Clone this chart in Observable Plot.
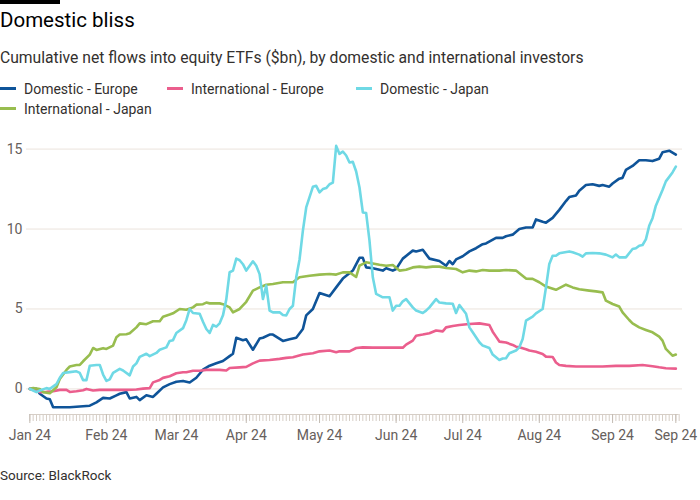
<!DOCTYPE html>
<html>
<head>
<meta charset="utf-8">
<script src="https://cdn.jsdelivr.net/npm/d3@7"></script>
<script src="https://cdn.jsdelivr.net/npm/@observablehq/plot@0.6"></script>
<style>
  html, body { margin: 0; padding: 0; background: #fff; }
  body { width: 700px; height: 500px; position: relative; overflow: hidden; font-family: Roboto, "Noto Sans", sans-serif; }
  .bar { position: absolute; left: 0; top: 0; width: 60px; height: 4px; background: #000; }
  .title { position: absolute; left: 0; top: 8px; font-size: 20.5px; line-height: 24px; color: #000; }
  .subtitle { position: absolute; left: 0; top: 48px; font-size: 15.7px; line-height: 20px; color: #33302e; }
  .legend { position: absolute; left: 0; top: 79px; width: 600px; font-size: 14px; line-height: 20px; color: #33302e; }
  .item { display: inline-block; position: relative; padding-left: 24px; box-sizing: border-box; white-space: nowrap; }
  .item .sw { position: absolute; left: 0; top: 8px; width: 16px; height: 3px; }
  #chart { position: absolute; left: 0; top: 125px; }
  .source { position: absolute; left: 0; top: 466px; font-size: 13.5px; line-height: 18px; color: #33302e; }
</style>
</head>
<body>
<div class="bar"></div>
<div class="title">Domestic bliss</div>
<div class="subtitle">Cumulative net flows into equity ETFs ($bn), by domestic and international investors</div>
<div class="legend" id="legend"></div>
<div id="chart"></div>
<div class="source">Source: BlackRock</div>
<script>
// Series names and colours
const seriesNames = ["Domestic - Europe", "International - Europe", "Domestic - Japan", "International - Japan"];
const seriesColors = ["#0f5499", "#eb5e8d", "#6fd9e5", "#98bd4f"];

// x = weekday index counted from 1 Jan 2024
const tickDays = [0, 23, 44, 65, 87, 110, 130, 153, 175, 194];
const tickLabels = ["Jan 24", "Feb 24", "Mar 24", "Apr 24", "May 24", "Jun 24", "Jul 24", "Aug 24", "Sep 24", "Sep 24"];
const yTicks = [0, 5, 10, 15];

// Domestic - Europe
const deDays = [0,2,3,5,6,7,9,12,15,18,20,22,24,26,27,29,30,32,33,35,37,38,40,42,44,46,48,50,52,54,56,58,60,61,62,64,65,67,69,70,72,73,76,78,80,82,83,85,87,90,92,94,97,99,100,101,103,106,107,109,110,112,115,116,118,120,123,125,126,127,128,130,132,134,136,137,140,142,143,145,147,149,151,152,154,155,157,158,159,161,162,164,165,167,169,171,172,174,175,177,178,179,181,183,185,187,189,190,192,194];
const deValues = [0,0,-0.3,-0.6,-0.65,-1.15,-1.15,-1.15,-1.1,-1.05,-0.84,-0.56,-0.6,-0.4,-0.3,-0.2,-0.6,-0.5,-0.7,-0.4,-0.5,-0.3,0.1,0.3,0.45,0.5,0.4,0.7,1.2,1.45,1.6,1.75,2.05,2.2,3.2,3.05,3.1,2.45,3.15,3.2,3.4,3.4,3.0,3.1,3.2,3.75,4.6,5.0,6.0,5.8,6.35,6.9,7.4,8.2,8.2,7.6,7.55,7.4,7.55,7.4,7.5,8.15,8.65,8.6,8.7,8.15,8.0,7.7,8.0,7.8,8.1,8.3,8.6,8.8,9.05,9.1,9.45,9.45,9.55,9.65,10.0,10.1,10.1,10.6,10.45,10.4,10.7,10.95,11.2,11.75,12.0,12.1,12.4,12.75,12.8,12.7,12.75,12.65,12.85,13.15,13.2,13.7,13.95,14.3,14.3,14.25,14.4,14.8,14.9,14.65];

// International - Europe
const ieDays = [0,1,3,5,7,9,11,12,14,16,17,19,21,25,29,32,34,36,37,39,40,42,44,46,47,49,51,53,55,57,59,60,63,65,67,69,72,75,77,79,82,85,87,90,92,93,96,98,100,103,106,109,112,113,115,116,118,120,122,124,125,127,129,132,135,138,139,140,141,143,145,146,147,149,150,152,154,155,157,158,159,161,164,168,172,176,180,184,187,189,191,194];
const ieValues = [0,-0.03,-0.2,-0.18,-0.15,-0.06,-0.06,-0.19,-0.15,-0.08,0,-0.1,-0.06,-0.06,-0.06,-0.04,0.02,0.05,0.41,0.56,0.69,0.79,0.98,1.04,1.04,1.14,1.14,1.19,1.19,1.19,1.15,1.31,1.35,1.38,1.6,1.77,1.81,1.88,1.94,1.98,2.15,2.23,2.35,2.4,2.29,2.35,2.35,2.56,2.6,2.58,2.58,2.58,2.58,2.77,3.02,3.33,3.4,3.48,3.65,3.6,3.85,3.94,4.0,4.06,4.1,4.0,3.58,3.27,2.96,2.9,2.75,2.64,2.6,2.48,2.4,2.33,2.19,2.02,2.0,1.65,1.5,1.44,1.4,1.4,1.4,1.44,1.44,1.5,1.42,1.35,1.29,1.27];

// Domestic - Japan
const djDays = [0,1,2,3,5,6,8,9,10,12,14,15,16,17,18,20,21,22,23,24,25,27,28,30,31,32,33,35,36,38,39,41,42,43,44,46,47,48,49,51,52,53,54,55,56,57,58,59,60,61,62,63,64,65,67,68,69,70,71,72,73,75,76,77,78,79,80,81,82,83,85,86,87,88,89,90,91,92,93,94,95,96,97,98,99,100,101,102,103,104,106,108,109,110,111,112,113,115,116,118,119,120,122,123,125,127,128,129,131,132,133,135,136,138,139,141,142,143,144,146,147,148,149,151,152,154,155,156,157,158,159,162,163,165,166,167,169,171,173,175,176,177,179,181,182,183,184,185,186,187,188,190,191,193,194];
const djValues = [0,-0.1,-0.2,-0.1,0.05,0,0.3,0.7,1.0,1.05,1.1,1.0,0.55,0.55,1.45,1.5,1.5,0.9,0.5,0.6,1.0,1.25,1.15,0.85,1.4,1.6,2.0,2.2,2.05,2.25,2.45,2.6,3.0,3.05,3.5,3.8,4.3,5.0,4.75,4.7,4.2,3.75,3.5,4.0,3.9,4.1,4.6,5.6,7.3,7.4,8.15,8.05,7.8,7.4,7.98,7.7,7.18,5.62,6.46,4.9,4.79,4.79,4.62,4.6,5.0,5.2,6.98,8.1,9.9,11.35,12.64,12.7,12.29,12.5,12.56,12.8,12.9,15.2,14.7,14.85,14.6,14.16,14.2,13.6,12.6,11.04,11.0,9.27,6.98,5.94,5.73,5.73,4.9,5.2,5.2,5.48,5.62,5.1,4.9,4.75,4.9,5.1,5.62,5.4,5.35,5.33,4.75,5.25,4.7,3.85,3.54,2.92,2.71,2.56,2.15,1.81,1.9,1.92,2.23,2.4,2.6,3.12,4.27,4.52,4.73,5.0,6.35,7.81,8.33,8.33,8.48,8.6,8.55,8.4,8.27,8.48,8.5,8.48,8.4,8.23,8.4,8.23,8.23,8.75,8.8,8.96,9.0,9.35,10.2,10.68,11.46,12.44,12.98,13.54,13.9];

// International - Japan
const ijDays = [0,1,3,4,6,8,9,11,12,14,15,16,18,19,20,22,23,25,26,27,29,30,32,33,35,37,39,40,42,43,45,47,49,50,52,53,54,57,58,60,61,63,65,67,69,71,73,76,79,81,84,87,90,92,94,96,98,99,101,103,105,107,109,111,113,115,117,119,121,123,125,128,130,132,134,136,138,141,143,146,149,151,153,155,158,159,161,163,165,168,170,172,173,175,177,178,180,181,183,185,187,189,190,191,193,194];
const ijValues = [0,0.05,0,-0.2,-0.27,0.1,0.62,1.19,1.4,1.5,1.5,1.73,2.15,2.56,2.44,2.55,2.5,2.71,3.23,3.4,3.42,3.48,3.85,4.1,4.05,4.23,4.23,4.52,4.65,4.73,5.0,4.95,5.1,5.27,5.3,5.4,5.35,5.35,5.3,5.1,4.79,5.0,5.45,6.15,6.35,6.52,6.56,6.67,6.67,6.98,7.08,7.15,7.19,7.15,7.29,7.29,7.0,7.71,7.92,7.85,7.77,7.7,7.75,7.4,7.45,7.6,7.65,7.6,7.65,7.65,7.56,7.5,7.29,7.4,7.35,7.44,7.4,7.4,7.44,7.4,6.9,6.88,6.67,6.4,6.2,6.31,6.52,6.35,6.23,6.15,6.1,6.04,5.52,5.31,5.15,4.79,4.31,4.1,3.85,3.69,3.54,3.27,3.02,2.5,2.08,2.15];

const seriesDays = [deDays, ieDays, djDays, ijDays];
const seriesValues = [deValues, ieValues, djValues, ijValues];

// Legend
const legend = document.getElementById("legend");
const itemWidths = [167, 189, 200, 200];
seriesNames.forEach((name, i) => {
  const it = document.createElement("span");
  it.className = "item";
  it.style.width = itemWidths[i] + "px";
  const sw = document.createElement("span");
  sw.className = "sw";
  sw.style.background = seriesColors[i];
  it.appendChild(sw);
  it.appendChild(document.createTextNode(name));
  legend.appendChild(it);
});

const rows = seriesNames.flatMap((name, s) =>
  seriesDays[s].map((d, i) => ({series: name, day: d, value: seriesValues[s][i]})));

const drawOrder = ["Domestic - Europe", "International - Europe", "International - Japan", "Domestic - Japan"];
const minorDays = d3.range(0, 196);
const font = 'Roboto, "Noto Sans", sans-serif';

const chart = Plot.plot({
  width: 700,
  height: 340,
  marginTop: 14,
  marginLeft: 26,
  marginRight: 18,
  marginBottom: 51,
  style: {fontFamily: font, fontSize: "14px", background: "transparent", color: "#66605c"},
  x: {domain: [-1, 196], axis: null},
  y: {domain: [-1.6, 15.6], axis: null},
  color: {domain: seriesNames, range: seriesColors},
  marks: [
    Plot.gridY(yTicks, {stroke: "#ebe3dc", strokeOpacity: 1, strokeWidth: 1}),
    Plot.axisY(yTicks, {label: null, tickSize: 0, tickPadding: 4, fontSize: 14, fill: "#66605c"}),
    Plot.ruleY([-1.6], {x1: 0, x2: 195, stroke: "#d6cec6"}),
    Plot.axisX(minorDays, {label: null, tickSize: 7, tickFormat: () => "", stroke: "#d6cec6", strokeOpacity: 1}),
    Plot.axisX(tickDays, {label: null, tickSize: 9, tickPadding: 7, stroke: "#c4bcb4", strokeOpacity: 1, fontSize: 14, fill: "#66605c",
      tickFormat: d => tickLabels[tickDays.indexOf(d)]}),
    ...drawOrder.map(name => Plot.line(rows.filter(r => r.series === name), {
      x: "day", y: "value", stroke: "series", strokeWidth: 2.6, strokeLinejoin: "round", strokeLinecap: "round"
    }))
  ]
});
document.getElementById("chart").appendChild(chart);
</script>
</body>
</html>
